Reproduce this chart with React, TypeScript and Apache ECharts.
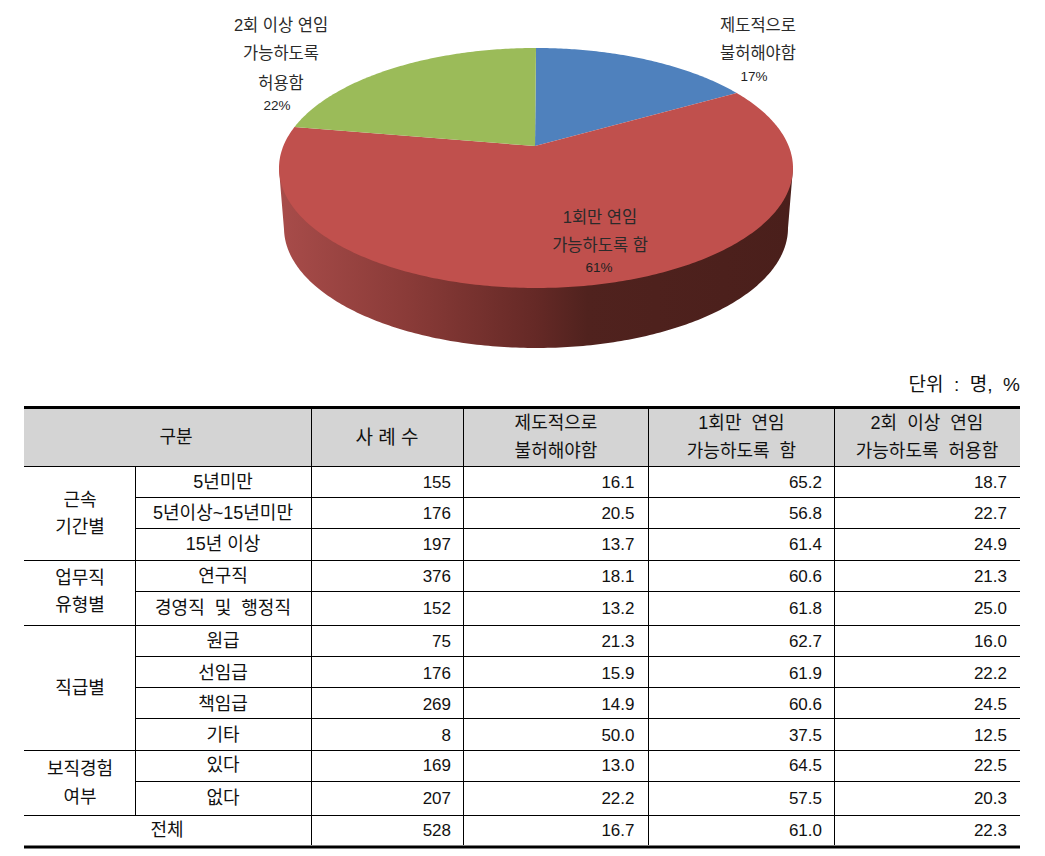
import React, { useEffect, useRef } from "react";
import * as echarts from "echarts";

// ---------- data ----------
const sliceNames = ["제도적으로 불허해야함", "1회만 연임 가능하도록 함", "2회 이상 연임 가능하도록 허용함"];
const sliceValues = [16.7, 61.0, 22.3];
const sliceColors = ["#4F81BD", "#C0504D", "#9BBB59"];
const sliceLabelLines = [
  ["제도적으로", "불허해야함"],
  ["1회만 연임", "가능하도록 함"],
  ["2회 이상 연임", "가능하도록", "허용함"],
];

const headerCols = ["사 례 수", ["제도적으로", "불허해야함"], ["1회만 연임", "가능하도록 함"], ["2회 이상 연임", "가능하도록 허용함"]];
const groupLabels = [["근속", "기간별"], ["업무직", "유형별"], ["직급별"], ["보직경험", "여부"]];
const rowLabels = ["5년미만", "5년이상~15년미만", "15년 이상", "연구직", "경영직 및 행정직", "원급", "선임급", "책임급", "기타", "있다", "없다"];
const caseCounts = [155, 176, 197, 376, 152, 75, 176, 269, 8, 169, 207];
const prohibit = ["16.1", "20.5", "13.7", "18.1", "13.2", "21.3", "15.9", "14.9", "50.0", "13.0", "22.2"];
const onceOnly = ["65.2", "56.8", "61.4", "60.6", "61.8", "62.7", "61.9", "60.6", "37.5", "64.5", "57.5"];
const twiceMore = ["18.7", "22.7", "24.9", "21.3", "25.0", "16.0", "22.2", "24.5", "12.5", "22.5", "20.3"];
const totalRow = { label: "전체", n: 528, a: "16.7", b: "61.0", c: "22.3" };
const unitText = "단위 : 명, %";

// ---------- layout ----------
const TOP = { cx: 536, cy: 168, rx: 257, ry: 120 };
const BOTTOM = { cx: 536, cy: 228, rx: 252, ry: 120 };
const APEX_SHIFT = 0.183; // perspective: how far the pie centre sits above the ellipse centre
const labelPos = [
  { x: 758, ys: [25, 53], pctX: 754, pctY: 76 },
  { x: 600, ys: [217, 245], pctX: 599, pctY: 267 },
  { x: 281, ys: [25, 53, 83], pctX: 277, pctY: 105 },
];
const colX = [24, 135.5, 311.5, 463.5, 648.5, 834.5, 1020];
const rowY = [466.5, 497.5, 528.5, 560.5, 591.5, 625.5, 656.5, 687.5, 718.5, 750.5, 781.5, 815.5];
const rowCenterY = [482, 513, 544, 576, 608, 641, 673, 704, 735, 765, 798];
const groupLineRows = [3, 5, 9, 11]; // rows whose top edge spans the full width
const groupTextPos = [[500, 527], [578, 605], [688], [769, 797]];
const numRight = [451, 634.5, 822, 1007];
const headerCenters = [556, 741.5, 927];
const headerLineY = [423, 451];
const FONT = '"Liberation Sans", "Noto Sans CJK KR", sans-serif';

function project(fraction: number) {
  const t = fraction * Math.PI * 2;
  const u = Math.sin(t);
  const v = Math.cos(t);
  const k = APEX_SHIFT;
  const d = 1 + k * v;
  return { X: (u * Math.sqrt(1 - k * k)) / d, Y: (v + k) / d };
}
const onTop = (p: { X: number; Y: number }) => [TOP.cx + TOP.rx * p.X, TOP.cy - TOP.ry * p.Y];
const onBottom = (p: { X: number; Y: number }) => [BOTTOM.cx + BOTTOM.rx * p.X, BOTTOM.cy - BOTTOM.ry * p.Y];

function sliceRange(index: number) {
  const total = sliceValues.reduce((a, b) => a + b, 0);
  const start = sliceValues.slice(0, index).reduce((a, b) => a + b, 0) / total;
  return [start, start + sliceValues[index] / total];
}
function sampleRim(index: number) {
  const [a, b] = sliceRange(index);
  const n = Math.max(8, Math.ceil((b - a) * 480));
  const out = [];
  for (let i = 0; i <= n; i++) out.push(project(a + ((b - a) * i) / n));
  return out;
}

const wallGradient = new echarts.graphic.LinearGradient(0, 0, 1, 0, [
  { offset: 0, color: "#A84C4A" },
  { offset: 0.25, color: "#8A3B38" },
  { offset: 0.5, color: "#652926" },
  { offset: 0.6, color: "#50221E" },
  { offset: 1, color: "#4A1F1B" },
]);

function renderWall(params: any) {
  const front = sampleRim(params.dataIndex).filter((p) => p.Y <= 0);
  if (front.length < 2) return { type: "group", children: [] };
  const points = [onTop(front[0]), ...front.map(onBottom), onTop(front[front.length - 1])];
  return { type: "polygon", shape: { points }, style: { fill: wallGradient }, silent: true };
}
function renderTop(params: any) {
  const i = params.dataIndex;
  const apex = [TOP.cx - 1, TOP.cy - TOP.ry * APEX_SHIFT];
  const points = [apex, ...sampleRim(i).map(onTop)];
  return { type: "polygon", shape: { points }, style: { fill: sliceColors[i] }, silent: true };
}

const wide = (s: string) => s.replace(/ /g, "  ");

function text(t: string, x: number, y: number, align = "center", size = 17, fill = "#111", weight = "normal") {
  return {
    type: "text",
    silent: true,
    z: 10,
    style: {
      text: t,
      x,
      y,
      fill,
      font: `${weight} ${size}px ${FONT}`,
      align,
      textAlign: align,
      verticalAlign: "middle",
      textVerticalAlign: "middle",
    },
  };
}
function line(x1: number, y1: number, x2: number, y2: number, w = 1) {
  return { type: "line", silent: true, z: 5, shape: { x1, y1, x2, y2 }, style: { stroke: "#000", lineWidth: w } };
}

function buildGraphics() {
  const els: any[] = [];
  sliceLabelLines.forEach((lines, i) => {
    const pos = labelPos[i];
    lines.forEach((l, j) => els.push(text(l, pos.x, pos.ys[j], "center", 16.5, "#2a2a2a")));
    els.push(text(`${Math.round(sliceValues[i])}%`, pos.pctX, pos.pctY, "center", 13.5, "#222"));
  });
  els.push(text(wide(unitText), 1020, 384, "right", 19, "#111"));

  // header
  els.push({
    type: "rect",
    silent: true,
    z: 1,
    shape: { x: colX[0], y: 408, width: colX[6] - colX[0], height: rowY[0] - 408 },
    style: { fill: "#D4D4D4" },
  });
  els.push(line(colX[0], 407.5, colX[6], 407.5, 3));
  els.push(line(colX[0], 847, colX[6], 847, 3));
  els.push(text("구분", 176, 437, "center", 18));
  els.push(text(headerCols[0] as string, 387, 437, "center", 19));
  headerCols.slice(1).forEach((h, i) => {
    (h as string[]).forEach((l, j) => els.push(text(wide(l), headerCenters[i], headerLineY[j], "center", 18)));
  });

  // rows
  rowY.forEach((y, r) => {
    const full = r === 0 || groupLineRows.includes(r);
    els.push(line(full ? colX[0] : colX[1], y, colX[6], y));
  });
  [colX[2], colX[3], colX[4], colX[5]].forEach((x) => els.push(line(x, 408, x, 845)));
  els.push(line(colX[1], rowY[0], colX[1], rowY[11]));
  rowLabels.forEach((l, r) => {
    const y = rowCenterY[r];
    els.push(text(l === "경영직 및 행정직" ? wide(l) : l, 223, y, "center", 18));
    els.push(text(String(caseCounts[r]), numRight[0], y, "right"));
    els.push(text(prohibit[r], numRight[1], y, "right"));
    els.push(text(onceOnly[r], numRight[2], y, "right"));
    els.push(text(twiceMore[r], numRight[3], y, "right"));
  });
  groupLabels.forEach((g, i) =>
    g.forEach((l, j) => els.push(text(l, 80, groupTextPos[i][j], "center", 18)))
  );
  els.push(text(totalRow.label, 167, 830, "center", 18));
  els.push(text(String(totalRow.n), numRight[0], 830, "right"));
  els.push(text(totalRow.a, numRight[1], 830, "right"));
  els.push(text(totalRow.b, numRight[2], 830, "right"));
  els.push(text(totalRow.c, numRight[3], 830, "right"));
  return els;
}

export default function App() {
  const ref = useRef<HTMLDivElement>(null);
  useEffect(() => {
    document.body.style.margin = "0";
    const chart = echarts.init(ref.current!, null, { renderer: "svg" });
    const data = sliceValues.map((value, i) => ({ name: sliceNames[i], value }));
    chart.setOption({
      animation: false,
      backgroundColor: "#fff",
      tooltip: { show: false },
      series: [
        { type: "custom", coordinateSystem: "none", renderItem: renderWall, data, z: 1, silent: true },
        { type: "custom", coordinateSystem: "none", renderItem: renderTop, data, z: 2, silent: true },
      ],
      graphic: { elements: buildGraphics() },
    });
    return () => chart.dispose();
  }, []);
  return <div ref={ref} style={{ width: 1045, height: 856 }} />;
}
